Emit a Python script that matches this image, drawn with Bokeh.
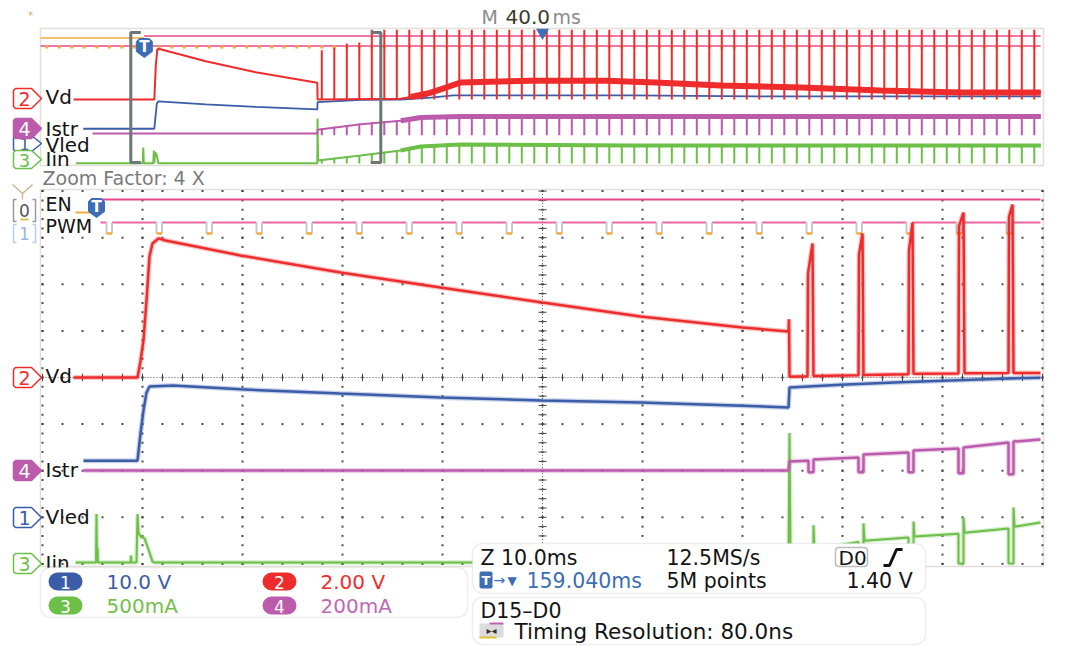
import numpy as np
from bokeh.plotting import figure
from bokeh.models import Range1d, BoxAnnotation
from bokeh.core.properties import value
from bokeh.embed import file_html
from bokeh.resources import INLINE

# ================= DATA =================
# channel legend
ch_numbers = ["1", "2", "3", "4"]
ch_scales = ["10.0 V", "2.00 V", "500mA", "200mA"]

# ---- zoomed window, time in ms (0 = zoom centre) ----
vd_t = [-46.9, -40.5, -40.2, -39.9, -39.6, -39.3, -39.0, -38.4, -37.7, -30.2, -20.2, -10.2, 0.0, 9.8, 20.0, 24.6, 24.65, 24.7,
        26.5, 26.55, 27.0, 27.1, 31.6, 31.65, 32.0, 32.1, 36.6, 36.65, 37.0, 37.1, 41.6, 41.65, 42.1, 42.2,
        46.6, 46.65, 47.0, 47.1, 49.8]
vd_v = [0.0, 0.0, 0.7, 1.6, 3.3, 5.2, 5.75, 5.97, 5.88, 5.24, 4.51, 3.86, 3.22, 2.62, 2.15, 1.97, 2.5, 0.03,
        0.05, 4.46, 5.75, 0.06, 0.1, 5.28, 6.18, 0.11, 0.14, 5.45, 6.65, 0.16, 0.17, 6.5, 7.08, 0.18,
        0.19, 6.9, 7.42, 0.19, 0.19]

vled_t = [-45.9, -40.5, -40.2, -39.9, -39.6, -39.3, -36.9, -30.2, -20.2, -10.2, 0.0, 9.8, 20.0, 24.6, 24.7,
          29.8, 35.8, 40.8, 45.8, 49.8]
vled_v = [12.2, 12.2, 18.0, 23.0, 26.8, 28.1, 28.3, 27.5, 26.6, 25.75, 25.1, 24.7, 24.0, 23.6, 27.9,
          28.5, 29.0, 29.4, 29.8, 30.0]

istr_t = [-45.9, 24.6, 24.7, 26.6, 26.6, 27.1, 27.1, 31.6, 31.6, 32.1, 32.1, 36.6, 36.6, 37.1, 37.1,
          41.6, 41.6, 42.1, 42.1, 46.6, 46.6, 47.1, 47.1, 49.8]
istr_i = [0, 0, 39, 42, -8, -8, 47, 56, -8, -8, 69, 77, -8, -8, 86,
          94, -12, -12, 99, 120, -16, -16, 124, 133]

iin_t = [-46.7, -44.65, -44.6, -44.55, -44.5, -44.45, -41.2, -41.15, -41.1, -40.6, -40.5, -40.4, -40.2, -39.8,
         -39.4, -39.0, -38.8, 24.6, 24.7, 24.8, 26.6, 26.6, 27.1, 27.1, 27.2, 31.6, 31.6, 32.1, 32.1, 32.2,
         36.6, 36.6, 37.1, 37.1, 37.2, 41.6, 41.6, 42.1, 42.1, 42.2, 46.6, 46.6, 47.1, 47.1, 47.2, 49.8]
iin_i = [10, 10, 530, 10, 170, 10, 10, 86, 10, 10, 530, 330, 290, 270,
         150, 20, 10, 10, 1400, 100, 130, 0, 0, 410, 150, 230, 0, 0, 430, 245,
         280, 0, 0, 450, 290, 320, 0, 0, 490, 330, 375, 0, 0, 600, 395, 440]

# ---- overview record (same time origin) ----
o_vd_t = [-72.9, -40.6, -40.0, -39.4, -38.5, -20.0, 0.0, 24.6, 24.7, 57.9, 61.9, 68.7, 75.1, 81.9,
          110.0, 140.0, 160.0, 186.0, 218.0, 250.0, 282.0, 314.0]
o_vd_v = [0.0, 0.0, 4.0, 5.9, 5.95, 4.5, 3.2, 1.97, 0.0, 0.1, 0.3, 0.7, 1.3, 2.0,
          2.2, 2.2, 2.0, 1.65, 1.41, 1.06, 0.82, 0.82]
o_vled_t = [-69.0, -40.6, -39.6, -39.0, -20.0, 0.0, 24.6, 24.7, 42.0, 58.0, 70.0, 79.0, 150.0, 200.0, 314.0]
o_vled_v = [12.2, 12.2, 27.0, 28.3, 26.6, 25.1, 23.6, 27.9, 29.2, 29.4, 30.5, 31.8, 31.8, 31.3, 31.3]
o_istr_t = [-65.3, 24.6, 24.7, 42.0, 58.0, 66.0, 82.0, 314.0]
o_istr_i = [0, 0, 45, 110, 150, 188, 200, 200]
o_iin_t = [-72.0, -45.2, -45.0, -44.8, -41.0, -40.8, -40.6, -40.2, -39.6, -39.0,
           24.6, 24.7, 24.9, 41.9, 57.9, 65.9, 81.9, 150.0, 314.0]
o_iin_i = [10, 10, 470, 10, 10, 380, 10, 330, 235, 10,
           10, 1320, 90, 235, 380, 500, 560, 530, 530]
o_vd_spike_peak = [5.8, 6.1, 6.6, 6.7] + [8.2] * 54

# ---- digital channels ----
pwm_low_ms = [-83.6, -78.6, -73.6, -68.6, -63.6, -58.6, -53.6, -48.6, -43.6, -38.6, -33.6, -28.6, -23.6,
              -18.6, -13.6, -8.6, -3.6, 1.4, 6.4, 11.4, 16.4, 21.4, 26.4, 31.4, 36.4, 41.4, 46.4, 51.4,
              56.4, 61.4, 66.4, 71.4, 76.4, 81.4, 86.4, 91.4, 96.4, 101.4, 106.4, 111.4, 116.4, 121.4,
              126.4, 131.4, 136.4, 141.4, 146.4, 151.4, 156.4, 161.4, 166.4, 171.4, 176.4, 181.4, 186.4,
              191.4, 196.4, 201.4, 206.4, 211.4, 216.4, 221.4, 226.4, 231.4, 236.4, 241.4, 246.4, 251.4,
              256.4, 261.4, 266.4, 271.4, 276.4, 281.4, 286.4, 291.4, 296.4, 301.4, 306.4, 311.4]
pwm_low_width_ms = 0.55
en_rise_ms = -44.7
trigger_ms = -44.6
zoom_half_ms = 50.0

# ---- readouts ----
zoom_factor_text = "Zoom Factor: 4 X"
main_tb_value = "40.0"
zoom_timebase = "Z 10.0ms"
sample_rate = "12.5MS/s"
record_length = "5M points"
trigger_pos = "159.040ms"
trigger_level = "1.40 V"
digital_group = "D15\u2013D0"
timing_res = "Timing Resolution: 80.0ns"

# ================= STYLE / LAYOUT =================
RED = "#ee2c2c"; BLUE = "#3b5ca9"; PURPLE = "#bc5bac"; GREEN = "#6cbf47"
PINK = "#e8478a"; PINK2 = "#ee66a0"; ORANGE = "#f5a93c"; TRANS = "#c8c8c8"; TBLUE = "#3d6db5"
FRAME = "#e2deda"; DOT = "#3c3c3c"; TXT = "#141414"
FONT = "DejaVu Sans"

W, H = 1068, 646
X0, X1, Y0, Y1 = 0, 1068, 0, 646
M_CX, M_PPMS = 542.0, 10.0
O_CX, O_PPMS = 255.3, 2.5
M_DIV, O_DIV = 46.6, 17.0
M_ZERO = {"vd": 377, "vled": 517, "istr": 470, "iin": 563}
O_ZERO = {"vd": 99, "vled": 149, "istr": 133, "iin": 163}
PER_DIV = {"vd": 2.0, "vled": 10.0, "istr": 200.0, "iin": 500.0}


def t_range(cx, ppms):
    return Range1d((X0 - cx) / ppms, (X1 - cx) / ppms)


def v_range(zero_px, ppu):
    return Range1d(start=(zero_px - Y1) / ppu, end=(zero_px - Y0) / ppu)


p = figure(width=W, height=H, x_range=Range1d(X0, X1), y_range=Range1d(Y1, Y0),
           x_axis_type=None, y_axis_type=None, output_backend="svg", toolbar_location=None,
           min_border=0, outline_line_color=None, background_fill_color="white",
           border_fill_color="white")
p.xgrid.visible = False
p.ygrid.visible = False

p.extra_x_ranges = {"mt": t_range(M_CX, M_PPMS), "ot": t_range(O_CX, O_PPMS)}
yr = {"mdiv": v_range(M_ZERO["vd"], M_DIV)}
for k in M_ZERO:
    yr["m_" + k] = v_range(M_ZERO[k], M_DIV / PER_DIV[k])
for k in O_ZERO:
    yr["o_" + k] = v_range(O_ZERO[k], O_DIV / PER_DIV[k])
p.extra_y_ranges = yr


def txt(x, y, s, color=TXT, size=20, align="left", style="normal", level="glyph"):
    p.text(x=[x], y=[y], text=[s], text_color=color, text_font=value(FONT),
           text_font_size=f"{size}px", text_align=align, text_baseline="middle",
           text_font_style=style, level=level)


def trace(t, v, color, xr, yrn, w, glow=0.28):
    if glow:
        p.line(t, v, line_color=color, line_width=w + 2.5, line_alpha=glow,
               x_range_name=xr, y_range_name=yrn)
    p.line(t, v, line_color=color, line_width=w, x_range_name=xr, y_range_name=yrn)


# ---------- panel frames ----------
p.quad(left=[40, 40], right=[1043, 1043], top=[28, 189], bottom=[165, 566],
       fill_color=None, line_color=FRAME, line_width=1.5)

# ---------- main grid (dots) ----------
cols = np.arange(-50, 50.01, 10)
rows = np.arange(-4, 4.01, 1)
rx = np.arange(-50, 50.01, 2)
cy = np.arange(-4, 4.01, 0.2)
gx = np.concatenate([np.tile(rx, len(rows)), np.repeat(cols, len(cy))])
gy = np.concatenate([np.repeat(rows, len(rx)), np.tile(cy, len(cols))])
p.scatter(gx, gy, marker="square", size=2, fill_color=DOT, line_color=None, fill_alpha=0.9,
          x_range_name="mt", y_range_name="mdiv")
# centre crosshair
p.line([-50, 50], [0, 0], line_color="#555", line_width=1, line_dash="1 2",
       x_range_name="mt", y_range_name="mdiv")
p.line([0, 0], [-4, 4], line_color="#555", line_width=1, line_dash="1 2",
       x_range_name="mt", y_range_name="mdiv")
p.segment(x0=rx, y0=-0.08, x1=rx, y1=0.08, line_color="#444", line_width=1,
          x_range_name="mt", y_range_name="mdiv")
p.segment(x0=-0.4, y0=cy, x1=0.4, y1=cy, line_color="#444", line_width=1,
          x_range_name="mt", y_range_name="mdiv")

# ---------- overview traces ----------
ov_spike_t = [t for t in pwm_low_ms if t > 25]
p.line([-86.1, en_rise_ms], [37.5, 37.5], line_color=ORANGE, line_width=1.5, x_range_name="ot")
p.line([en_rise_ms, 313.9], [35.5, 35.5], line_color=PINK, line_width=1.5, x_range_name="ot")
p.line([-86.1, 313.9], [45.5, 45.5], line_color=PINK, line_width=1.5, x_range_name="ot")
ov_pwm = [t for t in pwm_low_ms if -86 < t < 314]
p.scatter(ov_pwm, [46.5] * len(ov_pwm), marker="square", size=3, fill_color=ORANGE,
          line_color=None, x_range_name="ot")

band_i = [i for i, t in enumerate(o_iin_t) if t >= 57]
trace(o_iin_t, o_iin_i, GREEN, "ot", "o_iin", 2, glow=0)
p.line([o_iin_t[i] for i in band_i], [o_iin_i[i] for i in band_i], line_color=GREEN,
       line_width=4, x_range_name="ot", y_range_name="o_iin")
p.segment(x0=ov_spike_t, y0=0, x1=ov_spike_t, y1=np.interp(ov_spike_t, o_iin_t, o_iin_i) + 20,
          line_color=GREEN, line_width=2, x_range_name="ot", y_range_name="o_iin")

band_s = [i for i, t in enumerate(o_istr_t) if t >= 57]
trace(o_istr_t, o_istr_i, PURPLE, "ot", "o_istr", 2, glow=0)
p.line([o_istr_t[i] for i in band_s], [o_istr_i[i] for i in band_s], line_color=PURPLE,
       line_width=5, x_range_name="ot", y_range_name="o_istr")
p.segment(x0=ov_spike_t, y0=-22, x1=ov_spike_t, y1=np.interp(ov_spike_t, o_istr_t, o_istr_i) + 10,
          line_color=PURPLE, line_width=2, x_range_name="ot", y_range_name="o_istr")

trace(o_vled_t, o_vled_v, BLUE, "ot", "o_vled", 1.8, glow=0)

trace(o_vd_t, o_vd_v, RED, "ot", "o_vd", 2, glow=0)
band_d = [i for i, t in enumerate(o_vd_t) if t >= 61]
p.line([o_vd_t[i] for i in band_d], [o_vd_v[i] for i in band_d], line_color=RED,
       line_width=6, x_range_name="ot", y_range_name="o_vd")
p.segment(x0=ov_spike_t, y0=0, x1=ov_spike_t, y1=o_vd_spike_peak,
          line_color=RED, line_width=2, x_range_name="ot", y_range_name="o_vd")

# zoom bracket
p.line([-zoom_half_ms + 4, -zoom_half_ms, -zoom_half_ms, -zoom_half_ms + 4], [32, 32, 162, 162],
       line_color="#6c7676", line_width=3, x_range_name="ot")
p.line([zoom_half_ms - 4, zoom_half_ms, zoom_half_ms, zoom_half_ms - 4], [32, 32, 162, 162],
       line_color="#6c7676", line_width=3, x_range_name="ot")

# ---------- main digital traces ----------
p.line([-46.7, en_rise_ms], [212, 212], line_color=ORANGE, line_width=2, x_range_name="mt")
p.line([en_rise_ms, en_rise_ms], [212, 199], line_color=TRANS, line_width=2, x_range_name="mt")
p.line([en_rise_ms, 49.8], [199, 199], line_color=PINK, line_width=2, x_range_name="mt")

lows = [t for t in pwm_low_ms if -44.2 < t < 49.8]
ends = [t + pwm_low_width_ms for t in lows]
p.segment(x0=[-44.2] + ends, y0=222, x1=lows + [49.8], y1=222, line_color=PINK2, line_width=2,
          x_range_name="mt")
p.segment(x0=lows + ends, y0=222, x1=lows + ends, y1=233, line_color=TRANS, line_width=2,
          x_range_name="mt")
p.segment(x0=lows, y0=233, x1=ends, y1=233, line_color=ORANGE, line_width=2.5, x_range_name="mt")

# ---------- main analog traces ----------
trace(iin_t, iin_i, GREEN, "mt", "m_iin", 2)
trace(istr_t, istr_i, PURPLE, "mt", "m_istr", 2.5)
trace(vled_t, vled_v, BLUE, "mt", "m_vled", 2.5)
trace(vd_t, vd_v, RED, "mt", "m_vd", 2.5)


# ---------- channel tags & labels ----------
def tag(yc, num, color, filled, h=20):
    hh = h / 2
    xs = [15, 31, 41, 31, 15, 13, 13]
    ys = [yc - hh, yc - hh, yc, yc + hh, yc + hh, yc + hh - 2, yc - hh + 2]
    p.patch(xs, ys, fill_color=color if filled else "white", line_color=color, line_width=1.5)
    txt(24, yc + 0.5, num, color="white" if filled else color, size=min(19, h), align="center")


# overview
tag(98, "2", RED, False)
txt(45, 96, "Vd")
tag(143, "1", BLUE, False, h=16)
tag(159, "3", GREEN, False, h=18)
txt(45, 158, "Iin")
p.quad(left=[44], right=[94], top=[136], bottom=[151], fill_color="white", line_color=None)
txt(45, 144, "Vled")
tag(128, "4", PURPLE, True)
p.quad(left=[44], right=[82], top=[119], bottom=[136.5], fill_color="white", line_color=None)
txt(45, 128, "Istr")

# main
tag(377, "2", RED, False)
txt(45, 375, "Vd")
tag(470, "4", PURPLE, True)
txt(45, 469, "Istr")
tag(517, "1", BLUE, False)
txt(45, 516, "Vled")
tag(563, "3", GREEN, False)
txt(45, 562, "Iin")
txt(45, 203, "EN", size=19)
txt(45, 225, "PWM", size=19)

# digital channel markers at far left
p.multi_line([[12, 22, 32], [22, 22]], [[184, 193, 184], [193, 199]], line_color="#cdb890", line_width=1.5)
p.multi_line([[16, 13, 13, 16], [32, 35, 35, 32]], [[199, 199, 221, 221], [199, 199, 221, 221]],
             line_color="#9a9a9a", line_width=1.5)
txt(24, 210, "0", color="#555", size=17, align="center")
p.segment(x0=[20], y0=[219], x1=[28], y1=[219], line_color="#d8c060", line_width=2)
p.multi_line([[16, 13, 13, 16], [32, 35, 35, 32]], [[224, 224, 242, 242], [224, 224, 242, 242]],
             line_color="#b8cde8", line_width=1.5)
txt(24, 233, "1", color="#9cb8e0", size=17, align="center")


# trigger markers
def shield(xc, top):
    xs = [xc - 8, xc - 5, xc + 5, xc + 8, xc + 8, xc, xc - 8]
    ys = [top + 3, top, top, top + 3, top + 13, top + 19, top + 13]
    p.patch(xs, ys, fill_color=TBLUE, line_color=TBLUE)
    txt(xc, top + 8.5, "T", color="white", size=15, align="center", style="bold")


shield(M_CX + M_PPMS * trigger_ms, 198)
shield(O_CX + O_PPMS * trigger_ms, 38)
p.scatter([542], [32], marker="inverted_triangle", size=13, fill_color=TBLUE, line_color=None)

# header texts
txt(30, 15, "*", color="#c8a870", size=10, align="center")
txt(481, 16, "M", color="#8c8c8c", size=19)
txt(505, 16, main_tb_value, color="#3c3a2e", size=20)
txt(552, 16, "ms", color="#8c8c8c", size=19)
txt(42, 177, zoom_factor_text, color="#7a7a7a", size=19)

# ---------- readout boxes ----------
def box(l, r, t, b, fill="white", line="#c8c8c8", rad=10, lw=1.5):
    p.add_layout(BoxAnnotation(left=l, right=r, top=t, bottom=b, fill_color=fill, fill_alpha=1.0,
                               line_color=line, line_width=lw, border_radius=rad))


box(40, 467, 567, 617)
box(472, 925, 543, 593)
box(472, 925, 597, 644)

pill_colors = [BLUE, RED, GREEN, PURPLE]
val_colors = [BLUE, RED, "#74bf4c", "#bf66b3"]
pill_pos = [(48, 572), (262, 572), (48, 596), (262, 596)]
for n, sc, pc, vc, (px, py) in zip(ch_numbers, ch_scales, pill_colors, val_colors, pill_pos):
    box(px, px + 34, py, py + 18, fill=pc, line=None, rad=9)
    txt(px + 17, py + 9.5, n, color="white", size=17, align="center", level="overlay")
    txt(px + 58, py + 9.5, sc, color=vc, size=20, level="overlay")

txt(480, 557, zoom_timebase, size=20.5, level="overlay")
txt(666, 557, sample_rate, size=20.5, level="overlay")
box(835, 867, 547, 566, fill="white", line="#222", rad=3, lw=1.5)
txt(838, 557, "D0", level="overlay")
p.line([883, 889, 896, 902], [565, 565, 549, 549], line_color="#111", line_width=3, level="overlay")
box(479, 492, 571, 588, fill=TBLUE, line=None, rad=2)
txt(485.5, 580, "T", color="white", size=13, align="center", style="bold", level="overlay")
txt(493, 579, "\u2192", color=TBLUE, size=14, level="overlay")
txt(507, 580, "\u25bc", color=TBLUE, size=12, level="overlay")
txt(526, 580, trigger_pos, color=TBLUE, size=20.5, level="overlay")
txt(666, 580, record_length, size=20.5, level="overlay")
txt(846, 580, trigger_level, size=20.5, level="overlay")

txt(480, 610, digital_group, size=20.5, level="overlay")
box(479, 503, 623, 637, fill="#dcdcdc", line=None, rad=1)
p.segment(x0=[479], y0=[637], x1=[496], y1=[637], line_color="#e0c030", line_width=2, level="overlay")
p.segment(x0=[489], y0=[623], x1=[503], y1=[623], line_color="#c060b0", line_width=2, level="overlay")
txt(491, 630, "\u25b8\u25c2", color="#333", size=10, align="center", level="overlay")
txt(514, 631, timing_res, size=21.5, level="overlay")

open("out.html", "w").write(file_html(p, INLINE))
